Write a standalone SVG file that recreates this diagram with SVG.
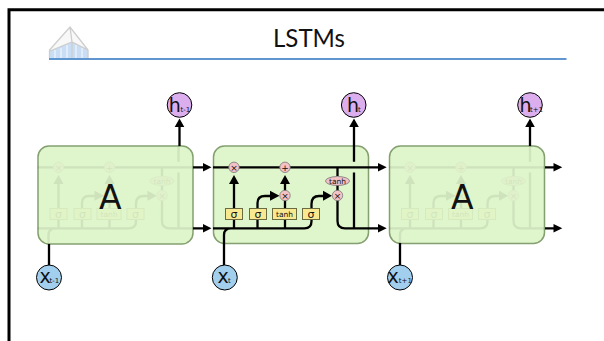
<svg xmlns="http://www.w3.org/2000/svg" width="604" height="341" viewBox="0 0 604 341">
<style>
text{font-family:"DejaVu Sans",sans-serif;fill:#111}
.box{fill:#dff5cb;stroke:#84a070;stroke-width:1.500}
.ln{fill:none;stroke:#000;stroke-width:2.300}
.hd{fill:#000}
.op{fill:#f4c2c6;stroke:#777;stroke-width:.8}
.sg{fill:#f8e890;stroke:#6b6b40;stroke-width:1}
.h{fill:#dcaeed;stroke:#000;stroke-width:1}
.x{fill:#a3cfef;stroke:#000;stroke-width:1}
.t{font-size:7.500px;text-anchor:middle}
.o{font-size:9px;text-anchor:middle}
.s{font-size:11px;text-anchor:middle}
.big{font-size:19px}
.sub{font-size:7px}
.a{font-size:33px;text-anchor:middle}
</style>
<defs>
<g id="inner">
<path class="ln" d="M213 167.300H368M213 228.300H304.500Q311.500 228.300 311.500 221.300V204Q311.500 196 319 196H324M224 243V235Q224 228.300 231 228.300M234 228.300V183M257.500 228.300V203Q257.500 196 265 196H271M285 228.300V182M337.500 167.300V176M337.500 185V221Q337.500 228.300 345 228.300H368M354 228.300V172.500M354 161.700V146"/>
<path class="hd" d="M229 184L234 175L239 184ZM280 184L285 175L290 184ZM270 190.700L279.500 195.700L270 200.700ZM323 190.700L332 195.700L323 200.700Z"/>
<circle class="op" cx="234" cy="167.300" r="5.200"/><text class="o" x="234" y="170.500">×</text>
<circle class="op" cx="285" cy="167.300" r="5.200"/><text class="o" x="285" y="170.500">+</text>
<circle class="op" cx="285" cy="195.500" r="5.200"/><text class="o" x="285" y="198.700">×</text>
<circle class="op" cx="337.500" cy="195.500" r="5.200"/><text class="o" x="337.500" y="198.700">×</text>
<ellipse class="op" cx="337.500" cy="181" rx="12" ry="4.500"/><text class="t" x="337.500" y="183.800">tanh</text>
<rect class="sg" x="225.500" y="208.500" width="17" height="11"/><text class="s" x="234" y="217.500">σ</text>
<rect class="sg" x="249.500" y="208.500" width="17" height="11"/><text class="s" x="258" y="217.500">σ</text>
<rect class="sg" x="272.500" y="208.500" width="24" height="11"/><text class="t" x="284.500" y="216.500">tanh</text>
<rect class="sg" x="302.500" y="208.500" width="17" height="11"/><text class="s" x="311" y="217.500">σ</text>
</g>
</defs>
<path d="M9 341V9.700H604" fill="none" stroke="#000" stroke-width="3"/>
<line x1="49" y1="59" x2="566.500" y2="59" stroke="#5f96cf" stroke-width="2"/>
<g id="logo">
<path d="M49.500 58V50L70 27L88 50V58Z" fill="#f8f8f8"/>
<path d="M50 58V51L72 42L88 50V58Z" fill="#c9def5"/>
<path d="M55 50V58M61 48V58M67 45V58M76 45V58M82 48V58" stroke="#e8f1fb" stroke-width="1.500"/>
<path d="M49.500 58V50L70 27L88 50V58M70 27L72 42V58M50 51L72 42L88 50" fill="none" stroke="#cdcdcd" stroke-width="1.300"/>
</g>
<text id="title" x="273" y="46.500" font-size="25" textLength="72" lengthAdjust="spacingAndGlyphs" style="font-family:Lato,'Liberation Sans',sans-serif">LSTMs</text>
<g id="cell1">
<rect class="box" x="38" y="146" width="155" height="98" rx="11"/>
<use href="#inner" transform="translate(-175.500 0)" opacity=".07"/>
<text class="a" x="110.300" y="209">A</text>
</g>
<g id="cell2">
<rect class="box" x="213.500" y="146" width="155" height="97.500" rx="11"/>
<use href="#inner"/>
</g>
<g id="cell3">
<rect class="box" x="389.500" y="146" width="155" height="97.500" rx="11"/>
<use href="#inner" transform="translate(176 0)" opacity=".07"/>
<text class="a" x="462.300" y="209">A</text>
</g>
<g id="connectors">
<path class="ln" d="M179.500 146V126M193 167.300H204M193 228.300H204M49 244V265M224 243V265M400 243V265M530 146V126M354 146V126M368 167.300H379M368 228.300H379M545 167.300H554M545 228.300H554"/>
<path class="hd" d="M174.700 127L179.500 118.500L184.300 127ZM203 163L211.500 167.300L203 171.600ZM203 224L211.500 228.300L203 232.600ZM349.200 127L354 118.500L358.800 127ZM378 163L386.700 167.300L378 171.600ZM378 224L386.700 228.300L378 232.600ZM525.200 127L530 118.500L534.800 127ZM553.500 163L562.300 167.300L553.500 171.600ZM553.500 224L562.300 228.300L553.500 232.600Z"/>
</g>
<g id="h1"><circle class="h" cx="179.500" cy="105" r="12.300"/><text class="big" x="168.800" y="112">h</text><text class="sub" x="180.500" y="112">t-1</text></g>
<g id="h2"><circle class="h" cx="353.700" cy="105" r="12.300"/><text class="big" x="347" y="112">h</text><text class="sub" x="358" y="112">t</text></g>
<g id="h3"><circle class="h" cx="530" cy="105" r="12.300"/><text class="big" x="519.500" y="112">h</text><text class="sub" x="530" y="112">t+1</text></g>
<g id="x1"><circle class="x" cx="49" cy="277.500" r="12.500"/><text class="big" x="39.500" y="282.500">x</text><text class="sub" x="49.500" y="282.500">t-1</text></g>
<g id="x2"><circle class="x" cx="224.800" cy="277.500" r="12.500"/><text class="big" x="217.500" y="282.500">x</text><text class="sub" x="228" y="282.500">t</text></g>
<g id="x3"><circle class="x" cx="400" cy="277.500" r="12.500"/><text class="big" x="387.500" y="282.500">x</text><text class="sub" x="398.800" y="282.500">t+1</text></g>
</svg>
